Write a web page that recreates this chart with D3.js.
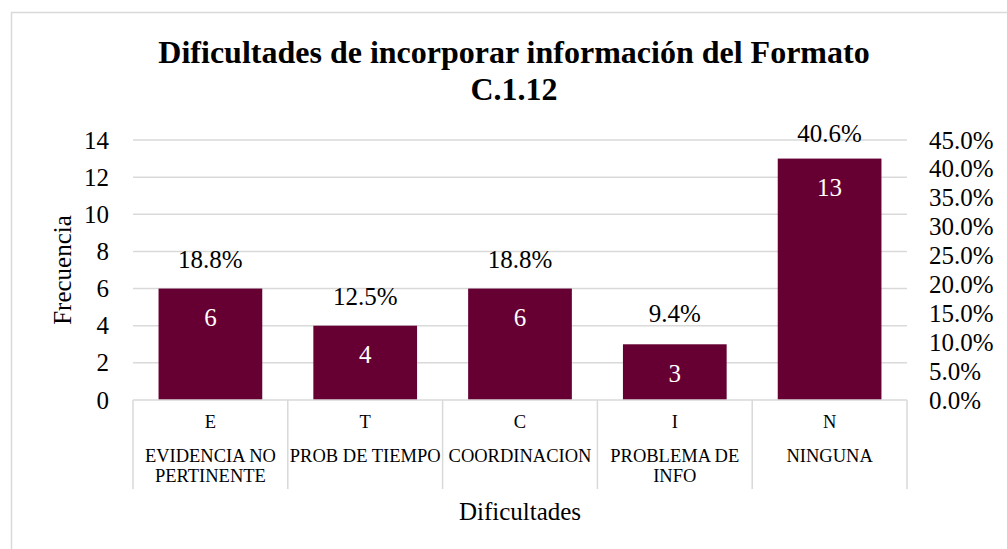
<!DOCTYPE html>
<html>
<head>
<meta charset="utf-8">
<script src="https://cdn.jsdelivr.net/npm/d3@7"></script>
<style>
  body { margin: 0; background: #fff; }
  svg text { font-family: "Liberation Serif", "Times New Roman", serif; fill: #000; }
</style>
</head>
<body>
<div id="chart"></div>
<script>
const codes = ["E", "T", "C", "I", "N"];
const names = [
  ["EVIDENCIA NO", "PERTINENTE"],
  ["PROB DE TIEMPO"],
  ["COORDINACION"],
  ["PROBLEMA DE", "INFO"],
  ["NINGUNA"]
];
const freq = [6, 4, 6, 3, 13];
const pct = [18.8, 12.5, 18.8, 9.4, 40.6];
const leftTicks = [0, 2, 4, 6, 8, 10, 12, 14];
const rightTicks = [0, 5, 10, 15, 20, 25, 30, 35, 40, 45];

const serif = "Liberation Serif";
const width = 1007;
const height = 549;
const margin = { top: 140, left: 133, bottom: 149, right: 100 };
const iwidth = width - margin.left - margin.right;
const iheight = height - margin.top - margin.bottom;

const svg = d3.select("#chart").append("svg")
  .attr("width", width).attr("height", height)
  .attr("font-family", serif);

// chart border
svg.append("rect")
  .attr("x", 11.5).attr("y", 12.5)
  .attr("width", 1000).attr("height", 600)
  .attr("fill", "none").attr("stroke", "#d9d9d9").attr("stroke-width", 1.5);

svg.append("text")
  .attr("x", 514).attr("y", 63)
  .attr("text-anchor", "middle")
  .style("font-size", "32px").style("font-weight", "bold")
  .text("Dificultades de incorporar información del Formato");
svg.append("text")
  .attr("x", 514).attr("y", 100)
  .attr("text-anchor", "middle")
  .style("font-size", "32px").style("font-weight", "bold")
  .text("C.1.12");

const g = svg.append("g")
  .attr("transform", `translate(${margin.left},${margin.top})`);

const x = d3.scaleBand().domain(codes).range([0, iwidth]).paddingInner(0.33).paddingOuter(0.165);
const xb = d3.scaleBand().domain(codes).range([0, iwidth]);
const y = d3.scaleLinear().domain([0, 14]).range([iheight, 0]);
const y2 = d3.scaleLinear().domain([0, 45]).range([iheight, 0]);

// gridlines
g.append("g").selectAll("line").data(leftTicks.slice(1)).enter().append("line")
  .attr("x1", 0).attr("x2", iwidth)
  .attr("y1", (d) => y(d)).attr("y2", (d) => y(d))
  .attr("stroke", "#d9d9d9").attr("stroke-width", 1.5);

// left axis
const yAxis = g.append("g").call(d3.axisLeft(y).tickValues(leftTicks).tickSize(0).tickPadding(24))
  .attr("font-family", serif).attr("font-size", 25);
yAxis.select(".domain").remove();

// right axis
const y2Axis = g.append("g").attr("transform", `translate(${iwidth},0)`)
  .call(d3.axisRight(y2).tickValues(rightTicks).tickSize(0).tickPadding(22)
    .tickFormat((d) => d.toFixed(1) + "%"))
  .attr("font-family", serif).attr("font-size", 25);
y2Axis.select(".domain").remove();

// bars
const data = codes.map((c, i) => ({ code: c, names: names[i], freq: freq[i], pct: pct[i] }));
g.selectAll("rect.bar").data(data).enter().append("rect")
  .attr("class", "bar")
  .attr("x", (d) => x(d.code))
  .attr("y", (d) => y(d.freq))
  .attr("width", x.bandwidth())
  .attr("height", (d) => iheight - y(d.freq))
  .attr("fill", "#660033");

g.selectAll("text.val").data(data).enter().append("text")
  .attr("class", "val")
  .attr("x", (d) => x(d.code) + x.bandwidth() / 2)
  .attr("y", (d) => y(d.freq) + 29)
  .attr("dy", "0.35em")
  .attr("text-anchor", "middle")
  .style("font-size", "25px").style("fill", "#fff")
  .text((d) => d.freq);

g.selectAll("text.pct").data(data).enter().append("text")
  .attr("class", "pct")
  .attr("x", (d) => x(d.code) + x.bandwidth() / 2)
  .attr("y", (d) => y2(d.pct) - 32)
  .attr("dy", "0.35em")
  .attr("text-anchor", "middle")
  .style("font-size", "25px")
  .text((d) => d.pct.toFixed(1) + "%");

// category axis
const xg = g.append("g").attr("transform", `translate(0,${iheight})`);
xg.append("line").attr("x1", 0).attr("x2", iwidth)
  .attr("stroke", "#d9d9d9").attr("stroke-width", 1.5);
xg.selectAll("line.sep").data(codes.concat(["end"])).enter().append("line")
  .attr("class", "sep")
  .attr("x1", (d, i) => i * xb.bandwidth()).attr("x2", (d, i) => i * xb.bandwidth())
  .attr("y1", 0).attr("y2", 89)
  .attr("stroke", "#d9d9d9").attr("stroke-width", 1.5);
xg.selectAll("text.code").data(data).enter().append("text")
  .attr("class", "code")
  .attr("x", (d) => xb(d.code) + xb.bandwidth() / 2)
  .attr("y", 22).attr("dy", "0.35em")
  .attr("text-anchor", "middle")
  .style("font-size", "18.5px")
  .text((d) => d.code);
const nm = xg.selectAll("text.name").data(data).enter().append("text")
  .attr("class", "name")
  .attr("text-anchor", "middle")
  .style("font-size", "18.5px");
nm.selectAll("tspan").data((d) => d.names.map((t) => ({ t, cx: xb(d.code) + xb.bandwidth() / 2 })))
  .enter().append("tspan")
  .attr("x", (d) => d.cx)
  .attr("y", (d, i) => 56 + i * 19.5)
  .attr("dy", "0.35em")
  .text((d) => d.t);

// axis titles
svg.append("text")
  .attr("text-anchor", "middle")
  .attr("transform", `translate(62,${margin.top + iheight / 2}) rotate(-90)`)
  .attr("dy", "0.35em")
  .style("font-size", "25px")
  .text("Frecuencia");
svg.append("text")
  .attr("x", margin.left + iwidth / 2).attr("y", 511)
  .attr("dy", "0.35em")
  .attr("text-anchor", "middle")
  .style("font-size", "25px")
  .text("Dificultades");
</script>
</body>
</html>
